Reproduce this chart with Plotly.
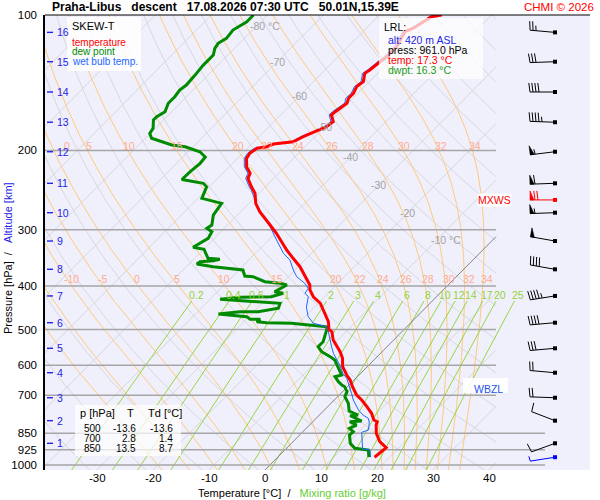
import math
import numpy as np
import plotly.graph_objects as go

FONT = "Liberation Sans, Arial, Helvetica, sans-serif"

# ---------------- chart values ----------------
temp_p = [961, 915.2, 887.7, 850.4, 815.0, 801.3, 794.3, 767.5, 742.0, 717.1, 698.9, 669.9, 647.4, 631.0,
          604.7, 579.3, 560.1, 527.5, 505.6, 500.0, 480.3, 452.3, 437.1, 422.7, 408.4, 398.1, 381.6, 362.5,
          347.3, 332.9, 319.0, 305.6, 292.9, 283.0, 273.6, 262.1, 249.0, 240.8, 230.7, 224.8, 217.4, 208.2,
          203.0, 197.8, 196.2, 193.5, 191.3, 186.4, 183.2, 180.1, 177.1, 172.6, 166.8, 164.0, 159.9, 157.1,
          153.1, 149.3, 144.3, 140.6, 134.8, 132.5, 128.0, 123.8, 117.6, 112.7, 108.9, 107.0, 100.9, 100.0]
temp_c = [17.3, 17.7, 15.5, 13.4, 11.9, 11.5, 10.6, 9.0, 7.0, 4.9, 3.1, 0.9, -0.7, -2.2,
          -4.4, -5.9, -7.5, -10.8, -12.5, -13.4, -14.9, -17.9, -19.6, -22.0, -23.8, -24.7, -27.0, -29.7,
          -32.4, -35.0, -37.4, -39.8, -42.4, -44.5, -46.6, -48.8, -50.7, -52.5, -54.6, -55.1, -56.9, -58.4,
          -58.7, -58.3, -56.8, -56.1, -53.0, -52.1, -51.2, -50.3, -49.7, -49.4, -50.9, -50.8, -50.5, -50.2,
          -50.8, -50.8, -51.4, -51.1, -52.3, -52.0, -51.7, -51.3, -51.3, -51.9, -52.5, -51.6, -50.4, -48.9]

dew_p = [961, 925.9, 917.8, 894.7, 857.7, 843.3, 828.8, 815.0, 801.3, 798.4, 777.1, 774.4, 758.6, 729.4,
         705.0, 687.2, 669.9, 664.1, 653.0, 636.5, 631.0, 609.8, 584.3, 574.4, 560.1, 546.0, 532.1, 500.0,
         493.0, 484.3, 482.9, 480.3, 474.4, 474.4, 468.1, 461.7, 458.7, 456.3, 456.3, 448.5, 437.1, 435.7,
         428.3, 423.8, 422.7, 415.3, 412.0, 398.1, 394.7, 391.5, 381.6, 380.2, 368.7, 362.5, 357.5, 353.4,
         351.6, 349.1, 347.3, 331.7, 328.3, 313.6, 303.2, 297.9, 292.9, 278.3, 262.1, 255.5, 240.8, 236.6,
         232.0, 222.9, 213.6, 206.8, 204.7, 201.3, 196.2, 194.5, 187.9, 183.2, 178.5, 171.1, 168.2, 164.0,
         157.1, 151.9, 146.8, 143.1, 136.0, 129.2, 122.7, 118.6, 115.6, 112.7, 108.0, 103.5, 100.0]
dew_c = [16.3, 14.9, 12.2, 10.5, 8.9, 9.0, 7.7, 8.4, 6.6, 8.6, 5.6, 6.9, 4.6, 3.1,
         1.3, 0.8, -0.5, -1.3, -2.5, -4.0, -3.1, -4.9, -7.0, -8.4, -10.8, -12.3, -12.3, -13.8,
         -14.3, -21.2, -25.7, -27.7, -27.5, -29.3, -30.4, -35.9, -33.5, -32.5, -29.2, -26.2, -26.8, -28.7,
         -38.2, -35.0, -29.5, -28.0, -29.8, -28.8, -30.3, -33.3, -36.3, -37.9, -39.3, -45.2, -48.6, -48.4,
         -46.2, -45.3, -47.6, -49.9, -52.2, -51.1, -51.6, -53.1, -52.8, -54.3, -54.9, -59.3, -60.5, -61.7,
         -66.2, -66.1, -65.8, -66.0, -66.7, -67.9, -71.4, -74.1, -78.9, -80.1, -80.4, -81.8, -81.8, -81.2,
         -82.1, -82.1, -82.4, -82.1, -82.3, -82.6, -82.6, -83.5, -83.8, -83.2, -83.5, -82.5, -82.5]

wet_p = [961, 925.9, 921.0, 880.2, 845.9, 836.0, 803.7, 787.4, 774.4, 754.9, 717.1, 693.0, 669.9, 641.8,
         625.5, 599.5, 584.3, 564.8, 546.0, 523.0, 501.2, 492.6, 484.3, 468.1, 445.8, 422.7, 415.3, 405.0,
         394.7, 381.6, 368.7, 350.1, 338.6, 316.2, 295.4, 280.7, 264.4, 245.1, 240.8, 230.7, 224.8, 217.4,
         208.2, 203.0, 197.8, 196.2, 193.5, 191.3, 186.4, 183.2, 180.1, 177.1, 172.6, 166.8, 164.0, 159.9,
         157.1, 153.1, 149.3, 144.3, 140.6, 134.8, 132.5, 128.0, 123.8, 117.6, 112.7, 108.9, 107.0, 100.9, 100.0]
wet_c = [16.6, 15.2, 13.7, 12.0, 10.6, 11.4, 10.2, 9.3, 7.8, 6.1, 3.4, 1.9, 0.3, -1.6,
         -3.2, -5.2, -6.6, -8.4, -9.9, -11.7, -13.5, -14.4, -17.3, -19.4, -21.4, -22.9, -24.1, -24.4,
         -25.9, -28.5, -30.3, -32.7, -35.0, -38.6, -42.1, -45.1, -48.3, -51.9, -52.9, -55.0, -55.5, -57.3,
         -58.8, -59.1, -58.8, -57.3, -56.5, -53.4, -52.5, -51.6, -50.7, -50.1, -49.8, -51.3, -51.3, -51.0,
         -50.6, -51.3, -51.2, -51.8, -51.5, -52.7, -52.4, -52.1, -51.8, -51.7, -52.3, -52.9, -52.0, -50.8, -49.3]

alt_km = [1, 2, 3, 4, 5, 6, 7, 8, 9, 10, 11, 12, 13, 14, 15, 16]
alt_p = [895, 797, 708.8, 623.6, 550.4, 482.8, 421.0, 367.4, 317.9, 275.0, 236.6, 201.3, 173.1, 148.3, 127.0, 109.3]

wind_p = [961, 895, 797, 708.8, 623.6, 550.4, 482.8, 421.0, 367.4, 317.9, 275.0, 236.6, 201.3, 173.1, 148.3, 127.0, 109.3]
wind_dir = [261, 250, 291, 272, 275, 265, 265, 261, 280, 280, 268, 268, 263, 272, 270, 268, 275]
wind_spd = [5, 10, 10, 20, 20, 30, 40, 45, 40, 50, 55, 60, 55, 45, 40, 30, 25]
mxws_p, mxws_dir, mxws_spd = 257.6, 270, 70

fzl_p = 655.0
wbzl_p = 669.0

press_ticks = [100, 200, 300, 400, 500, 600, 700, 850, 925, 1000]
press_lines = [200, 300, 400, 500, 600, 700]
press_lines_ext = [850, 925, 1000]
temp_ticks = [-30, -20, -10, 0, 10, 20, 30, 40]

iso_lab_t = [-80, -70, -60, -50, -40, -30, -20, -10]
iso_lab_p = [106, 127, 151, 177, 207, 239, 275, 316]
iso_vals = list(range(-130, 60, 10))
theta_vals = list(range(230, 480, 10))
thw_vals = [-20, -15, -10, -5, 0, 5, 10, 15, 20, 22, 24, 26, 28, 30, 32, 34]
thw_lab_hi = [0, 5, 10, 15, 20, 22, 24, 26, 28, 30, 32, 34]
thw_lab_lo = [-10, -5, 0, 5, 10, 15, 20, 22, 24, 26, 28, 30, 32, 34]
mix_vals = [0.2, 0.4, 0.6, 1, 2, 3, 4, 6, 8, 10, 12, 14, 17, 20, 25]
mix_text = ["0.2", "0.4", "0.6", "1", "2", "3", "4", "6", "8", "10", "12", "14", "17", "20", "25"]

table_p = [500, 700, 850]
table_t = [-13.6, 2.8, 13.5]
table_td = [-13.6, 1.4, 8.7]
lrl_alt, lrl_press, lrl_temp, lrl_dwpt = 420, 961.0, 17.3, 16.3

# ---------------- geometry ----------------
W, H = 600, 500
ML, MR, MT, MB = 45, 10, 15, 30
PW, PH = W - ML - MR, H - MT - MB
P_BOT, P_TOP = 1025.9, 100.0
X0_PX = 265.0
PX_PER_X = 5.6
X_LEFT = (ML - X0_PX) / PX_PER_X
X_RIGHT = X_LEFT + PW / PX_PER_X
PX_PER_DEC = PH / math.log10(P_BOT / P_TOP)
SKEW = 0.99 * PX_PER_DEC / PX_PER_X


def xpx(px):
    return (px - X0_PX) / PX_PER_X


X_CLIP = xpx(496)
X_EXT = xpx(545)


def skewx(t, p):
    return np.asarray(t) + SKEW * np.log10(P_BOT / np.asarray(p))


def clip_poly(xs, ps, xmax):
    ox, op = [], []
    prev = None
    for x, p in zip(xs, ps):
        inside = x <= xmax
        if prev is not None:
            x0, p0, in0 = prev
            if inside != in0:
                t = (xmax - x0) / (x - x0)
                lp = math.log10(p0) + t * (math.log10(p) - math.log10(p0))
                ox.append(xmax); op.append(10 ** lp)
                if not inside:
                    ox.append(None); op.append(None)
        if inside:
            ox.append(float(x)); op.append(float(p))
        prev = (x, p, inside)
    ox.append(None); op.append(None)
    return ox, op


# thermodynamics for the background lines
RD, CP, LV, EPS = 287.04, 1005.7, 2.501e6, 0.622


def es_hpa(tc):
    return 6.112 * math.exp(17.67 * tc / (tc + 243.5))


def dT_dlnp(tk, p):
    e = es_hpa(tk - 273.15)
    r = EPS * e / (p - e)
    return (RD * tk + LV * r) / (CP + LV * LV * r * EPS / (RD * tk * tk))


def integrate(t0, p_from, p_to, n):
    lnp = np.linspace(math.log(p_from), math.log(p_to), n)
    T = t0
    out = [T]
    for i in range(n - 1):
        h = lnp[i + 1] - lnp[i]
        p0 = math.exp(lnp[i]); pm = math.exp(lnp[i] + h / 2); p1 = math.exp(lnp[i + 1])
        k1 = dT_dlnp(T, p0)
        k2 = dT_dlnp(T + h / 2 * k1, pm)
        k3 = dT_dlnp(T + h / 2 * k2, pm)
        k4 = dT_dlnp(T + h * k3, p1)
        T = T + h / 6 * (k1 + 2 * k2 + 2 * k3 + k4)
        out.append(T)
    return np.exp(lnp), np.array(out)


def moist_curve(thw):
    pu, tu = integrate(thw + 273.15, 1000.0, 100.0, 260)
    pd, td = integrate(thw + 273.15, 1000.0, 1030.0, 6)
    p = np.concatenate([pd[::-1], pu[1:]])
    t = np.concatenate([td[::-1], tu[1:]]) - 273.15
    return p, t


def mix_td(w, p):
    e = (w / 1000.0) * p / (EPS + w / 1000.0)
    a = np.log(e / 6.112)
    return 243.5 * a / (17.67 - a)


fig = go.Figure()


def add_lines(xs, ps, color, width, dash=None):
    fig.add_trace(go.Scatter(x=xs, y=ps, mode="lines", hoverinfo="skip", showlegend=False,
                             line=dict(color=color, width=width, dash=dash)))


# isotherms
gx, gp = [], []
for t in iso_vals:
    if t == 0:
        continue
    pp = [1030.0, 100.0]
    ox, op = clip_poly(list(skewx([t, t], pp)), pp, X_CLIP)
    gx += ox; gp += op
# dry adiabats
pgrid = np.geomspace(1030, 100, 120)
for th in theta_vals:
    tt = th * (pgrid / 1000.0) ** (RD / CP) - 273.15
    ox, op = clip_poly(list(skewx(tt, pgrid)), list(pgrid), X_CLIP)
    gx += ox; gp += op
add_lines(gx, gp, "#d0d0d6", 0.8)

# pseudo-adiabats
ox_all, op_all = [], []
moist = {}
for thw in thw_vals:
    p, t = moist_curve(thw)
    moist[thw] = (p, t)
    ox, op = clip_poly(list(skewx(t, p)), list(p), X_CLIP)
    ox_all += ox; op_all += op
add_lines(ox_all, op_all, "#ffc56e", 0.9)

# mixing ratio lines
mx, mp = [], []
pm_grid = np.geomspace(1030, 432, 40)
for w in mix_vals:
    xs = skewx(mix_td(w, pm_grid), pm_grid)
    mx += list(map(float, xs)) + [None]
    mp += list(map(float, pm_grid)) + [None]
add_lines(mx, mp, "#8fd12c", 0.9)

# 0 degC isotherm (darker)
ox, op = clip_poly(list(skewx([0, 0], [1030.0, 100.0])), [1030.0, 100.0], X_CLIP)
add_lines(ox, op, "#777777", 0.9)

# pressure lines
hx, hp = [], []
for p in press_lines:
    hx += [X_LEFT, X_CLIP, None]; hp += [p, p, None]
for p in press_lines_ext:
    hx += [X_LEFT, X_EXT, None]; hp += [p, p, None]
add_lines(hx, hp, "#a6a6a6", 1.5)

# altitude ticks
ax_, ap_ = [], []
for p in alt_p:
    ax_ += [xpx(47), xpx(53), None]; ap_ += [p, p, None]
add_lines(ax_, ap_, "#2323e6", 1.4)

# profiles
add_lines(list(skewx(dew_c, dew_p)), dew_p, "#008a00", 3)
add_lines(list(skewx(wet_c, wet_p)), wet_p, "#1f66ff", 1)
add_lines(list(skewx(temp_c, temp_p)), temp_p, "#ff0000", 3)


# wind barbs
def barb_segments(dirdeg, spd, L=25.0, F=9.0):
    d = math.radians(dirdeg)
    ux, uy = math.sin(d), -math.cos(d)
    fx, fy = math.cos(d), math.sin(d)
    ex, ey = L * ux, L * uy
    lines = [[(0.0, 0.0), (ex, ey)]]
    polys = []
    n50 = int(spd // 50)
    rem = spd - 50 * n50
    n10 = int(rem // 10)
    n5 = 1 if rem - 10 * n10 >= 5 else 0
    pos = 0.0
    for _ in range(n50):
        b1 = (ex - pos * ux, ey - pos * uy)
        b2 = (ex - (pos + 4) * ux, ey - (pos + 4) * uy)
        apex = (b1[0] + F * fx, b1[1] + F * fy)
        polys.append([b1, apex, b2, b1])
        pos += 5
    for _ in range(n10):
        b = (ex - pos * ux, ey - pos * uy)
        lines.append([b, (b[0] + F * fx + 1.2 * ux, b[1] + F * fy + 1.2 * uy)])
        pos += 3
    if n5:
        b = (ex - pos * ux, ey - pos * uy)
        lines.append([b, (b[0] + 5 * fx + 0.7 * ux, b[1] + 5 * fy + 0.7 * uy)])
    return lines, polys


XS = xpx(555)


def add_barb(p_st, dirdeg, spd, color):
    lines, polys = barb_segments(dirdeg, spd)
    lx, lp = [], []
    for seg in lines:
        for dx, dy in seg:
            lx.append(XS + dx / PX_PER_X); lp.append(p_st * 10 ** (dy / PX_PER_DEC))
        lx.append(None); lp.append(None)
    add_lines(lx, lp, color, 1)
    if polys:
        fx_, fp_ = [], []
        for poly in polys:
            for dx, dy in poly:
                fx_.append(XS + dx / PX_PER_X); fp_.append(p_st * 10 ** (dy / PX_PER_DEC))
            fx_.append(None); fp_.append(None)
        fig.add_trace(go.Scatter(x=fx_, y=fp_, mode="lines", fill="toself", fillcolor=color,
                                 line=dict(color=color, width=0.6), hoverinfo="skip", showlegend=False))
    fig.add_trace(go.Scatter(x=[XS], y=[p_st], mode="markers", hoverinfo="skip", showlegend=False,
                             marker=dict(symbol="square", size=4, color=color, line=dict(width=0))))


for i, (p, d, s) in enumerate(zip(wind_p, wind_dir, wind_spd)):
    add_barb(p, d, s, "#0000ff" if i == 0 else "black")
add_barb(mxws_p, mxws_dir, mxws_spd, "#ff0000")

# ---------------- texts ----------------
anns = []
shapes = []


def ptxt(px, py, text, size=10, color="black", xanchor="left", angle=0):
    anns.append(dict(xref="paper", yref="paper", x=(px - ML) / PW, y=(H - MB - py) / PH, text=text,
                     showarrow=False, xanchor=xanchor, yanchor="middle", textangle=angle,
                     font=dict(size=size, color=color, family=FONT)))


def dtxt(X, p, text, size=10, color="black", xanchor="center", xshift=0, bg=None):
    d = dict(xref="x", yref="y", x=float(X), y=math.log10(p), text=text, showarrow=False,
             xanchor=xanchor, yanchor="middle", xshift=xshift,
             font=dict(size=size, color=color, family=FONT))
    if bg:
        d["bgcolor"] = bg
        d["borderpad"] = 0
    anns.append(d)


def prect(x0, y0, x1, y1, color="white", opacity=0.8):
    shapes.append(dict(type="rect", xref="paper", yref="paper", x0=(x0 - ML) / PW, x1=(x1 - ML) / PW,
                       y0=(H - MB - y1) / PH, y1=(H - MB - y0) / PH, fillcolor=color, opacity=opacity,
                       line=dict(width=0), layer="above"))


# temperature tick labels at the bottom edge
for t in temp_ticks:
    anns.append(dict(xref="x", yref="paper", x=t, y=(H - MB - 478.5) / PH, text=str(t), showarrow=False,
                     xanchor="center", yanchor="middle",
                     font=dict(size=11.5, color="black", family=FONT)))

# isotherm labels
for t, p in zip(iso_lab_t, iso_lab_p):
    lab = f"{t} °C" if t in (-80, -10) else f"{t}"
    dtxt(skewx(t, p), p, lab, size=10.5, color="#a3a3a3", xshift=(9 if t in (-80, -10) else 0))

# pseudo-adiabat labels
for row, plab in ((thw_lab_hi, 195.0), (thw_lab_lo, 387.0)):
    for thw in row:
        p, t = moist[thw]
        lp = np.log10(p)
        tl = float(np.interp(math.log10(plab), lp[::-1], t[::-1]))
        xl = max(float(skewx(tl, plab)), xpx(63))
        dtxt(xl, plab, str(thw), size=10.5, color="#ffab8e", xshift=4)

# mixing ratio labels
for w, s in zip(mix_vals, mix_text):
    dtxt(skewx(mix_td(w, 418.0), 418.0), 418.0, s, size=10.5, color="#95d23a")

# altitude labels
for km, p in zip(alt_km, alt_p):
    dtxt(xpx(55), p, str(km), size=10.5, color="#2323e6", xanchor="left")

# legend box
prect(67, 17, 141, 71, opacity=0.85)
ptxt(70, 26, "SKEW-T", size=11)
ptxt(70, 42.3, "temperature", size=10, color="#ff0000")
ptxt(70, 51.7, "dew point", size=10, color="#008a00")
ptxt(70, 61.7, "wet bulb temp.", size=10, color="#1f66ff")

# LRL box
prect(379, 18, 483, 79, opacity=0.72)
ptxt(382, 26.7, "LRL:", size=10.5)
ptxt(386, 39.5, f"alt: {lrl_alt} m ASL", size=10.5, color="#2323e6")
ptxt(386, 50, f"press: {lrl_press:.1f} hPa", size=10.5)
ptxt(386, 60, f"temp: {lrl_temp:.1f} °C", size=10.5, color="#ff0000")
ptxt(386, 70, f"dwpt: {lrl_dwpt:.1f} °C", size=10.5, color="#1a9a1a")

# table box
prect(75, 405, 181, 456, opacity=0.72)
ptxt(78, 413.3, "p [hPa]", size=11)
ptxt(125, 413.3, "T", size=11)
ptxt(146, 413.3, "Td [°C]", size=11)
for i, (p, t, td) in enumerate(zip(table_p, table_t, table_td)):
    yy = 428.3 + 10 * i
    ptxt(103, yy, f"{p}", size=10, xanchor="right")
    ptxt(138, yy, f"{t:.1f}", size=10, xanchor="right")
    ptxt(175, yy, f"{td:.1f}", size=10, xanchor="right")

# WBZL box
prect(463, 378, 508, 393, opacity=0.9)
shapes.append(dict(type="line", xref="x", yref="y", x0=xpx(466), x1=xpx(497), y0=math.log10(fzl_p),
                   y1=math.log10(fzl_p), line=dict(color="#ff0000", width=1, dash="dash"), layer="above"))
shapes.append(dict(type="line", xref="x", yref="y", x0=xpx(466), x1=xpx(471), y0=math.log10(wbzl_p),
                   y1=math.log10(wbzl_p), line=dict(color="#1f55ee", width=1), layer="above"))
ptxt(472, 389, "WBZL", size=10.5, color="#1f55ee")

# MXWS label
dtxt(xpx(512), mxws_p, "MXWS", size=10.5, color="#ff0000", xanchor="right", bg="white")
shapes.append(dict(type="line", xref="x", yref="y", x0=xpx(515), x1=xpx(521), y0=math.log10(mxws_p),
                   y1=math.log10(mxws_p), line=dict(color="#ff0000", width=1.2), layer="above"))

# top border
shapes.append(dict(type="line", xref="paper", yref="paper", x0=0, x1=1, y0=1, y1=1,
                   line=dict(color="black", width=1.2), layer="above"))

# titles
NB = "\u00a0"
ptxt(50, 7, "<b>Praha-Libus" + NB * 3 + "descent" + NB * 3 + "17.08.2026 07:30 UTC" + NB * 3 + "50.01N,15.39E</b>",
     size=12)
ptxt(596, 7, "CHMI © 2026", size=11.5, color="#ff0000", xanchor="right")
ptxt(292, 493, "Temperature [°C]" + NB * 2 + "/" + NB * 3 +
     '<span style="color:#66cc33">Mixing ratio [g/kg]</span>', size=11, xanchor="center")
ptxt(8, 258, "Pressure [hPa]" + NB * 2 + "/" + NB * 3 +
     '<span style="color:#2323e6">Altitude [km]</span>', size=11, xanchor="center", angle=-90)

fig.update_layout(
    width=W, height=H, margin=dict(l=ML, r=MR, t=MT, b=MB, pad=0),
    paper_bgcolor="white", plot_bgcolor="#f0f0fc", showlegend=False, hovermode=False,
    font=dict(family=FONT, size=11, color="black"),
    annotations=anns, shapes=shapes,
    xaxis=dict(range=[X_LEFT, X_RIGHT], showgrid=False, zeroline=False, showline=False,
               tickvals=temp_ticks, showticklabels=False, ticks="", fixedrange=True),
    yaxis=dict(type="log", range=[math.log10(P_BOT), math.log10(P_TOP)], showgrid=False, zeroline=False,
               showline=True, linecolor="black", linewidth=1.5,
               tickvals=press_ticks, ticktext=[str(p) for p in press_ticks], ticks="outside",
               ticklen=4, tickcolor="rgba(0,0,0,0)", tickfont=dict(size=11.5, color="black", family=FONT),
               fixedrange=True),
)

fig.write_html("out.html", config={"displayModeBar": False},
               post_script="document.body.style.margin='0';document.body.style.padding='0';")
